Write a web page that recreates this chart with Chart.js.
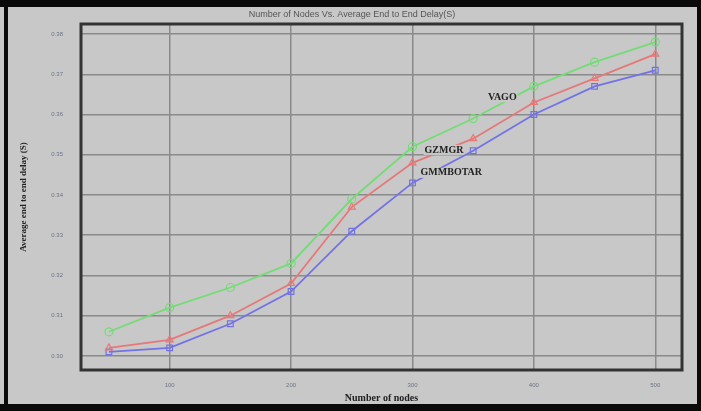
<!DOCTYPE html>
<html>
<head>
<meta charset="utf-8">
<script src="https://cdn.jsdelivr.net/npm/chart.js@4.4.1/dist/chart.umd.min.js"></script>
<style>
  html, body { margin: 0; padding: 0; background: #c8c8c8; }
  #wrap { position: relative; width: 701px; height: 411px; }
</style>
</head>
<body>
<div id="wrap"><canvas id="delay-chart"></canvas></div>
<script>
const nodes = [50, 100, 150, 200, 250, 300, 350, 400, 450, 500];
const vago = [0.306, 0.312, 0.317, 0.323, 0.339, 0.352, 0.359, 0.367, 0.373, 0.378];
const gzmgr = [0.302, 0.304, 0.310, 0.318, 0.337, 0.348, 0.354, 0.363, 0.369, 0.375];
const gmmbotar = [0.301, 0.302, 0.308, 0.316, 0.331, 0.343, 0.351, 0.360, 0.367, 0.371];

const xTicks = [100, 200, 300, 400, 500];
const yTicks = [0.30, 0.31, 0.32, 0.33, 0.34, 0.35, 0.36, 0.37, 0.38];

// series names written on the plot, anchored in data units
const seriesNames = [
  { text: 'VAGO', x: 374, y: 0.3643 },
  { text: 'GZMGR', x: 326, y: 0.3512 },
  { text: 'GMMBOTAR', x: 332, y: 0.3455 },
];

const colors = {
  vago: '#74dc74',
  gzmgr: '#e67878',
  gmmbotar: '#7272e6',
};

function toPoints(values) {
  return nodes.map((n, i) => ({ x: n, y: values[i] }));
}

function makeSet(label, values, color, style) {
  return {
    label,
    data: toPoints(values),
    borderColor: color,
    backgroundColor: 'rgba(0,0,0,0)',
    borderWidth: 1.8,
    tension: 0,
    pointStyle: style,
    pointRadius: 4,
    pointBorderWidth: 1.2,
    pointBorderColor: color,
    pointBackgroundColor: 'rgba(0,0,0,0)',
  };
}

const framePlugin = {
  id: 'frame',
  beforeDraw(chart) {
    const { ctx, width, height } = chart;
    ctx.save();
    ctx.fillStyle = '#c8c8c8';
    ctx.fillRect(0, 0, width, height);
    ctx.fillStyle = '#0a0a0a';
    ctx.fillRect(0, 0, width, 7);
    ctx.fillRect(4, 0, 4, height);
    ctx.fillRect(width - 4, 0, 4, height);
    ctx.fillRect(0, height - 7, width, 7);
    ctx.fillStyle = '#555';
    ctx.font = '9px "Liberation Sans", Arial, sans-serif';
    ctx.textAlign = 'center';
    ctx.textBaseline = 'middle';
    ctx.fillText('Number of Nodes Vs. Average End to End Delay(S)', 352, 15);
    ctx.restore();
  },
  afterDraw(chart) {
    const { ctx, chartArea: a, scales } = chart;
    ctx.save();
    ctx.strokeStyle = '#333';
    ctx.lineWidth = 3;
    ctx.strokeRect(a.left, a.top, a.right - a.left, a.bottom - a.top);

    ctx.font = 'bold 10px "Liberation Serif", "Times New Roman", serif';
    ctx.textAlign = 'center';
    ctx.textBaseline = 'middle';
    seriesNames.forEach((n) => {
      const px = scales.x.getPixelForValue(n.x);
      const py = scales.y.getPixelForValue(n.y);
      const w = ctx.measureText(n.text).width;
      ctx.fillStyle = '#c8c8c8';
      ctx.fillRect(px - w / 2 - 1, py - 5, w + 2, 10);
      ctx.fillStyle = '#222';
      ctx.fillText(n.text, px, py);
    });
    ctx.restore();
  },
};

new Chart(document.querySelector('#delay-chart'), {
  type: 'line',
  data: {
    datasets: [
      makeSet('VAGO', vago, colors.vago, 'circle'),
      makeSet('GZMGR', gzmgr, colors.gzmgr, 'triangle'),
      makeSet('GMMBOTAR', gmmbotar, colors.gmmbotar, 'rect'),
    ],
  },
  options: {
    responsive: true,
    maintainAspectRatio: false,
    animation: false,
    devicePixelRatio: 1,
    layout: { padding: { top: 24, right: 19, left: 0, bottom: 0 } },
    plugins: {
      legend: { display: false },
      tooltip: { enabled: false },
    },
    scales: {
      x: {
        type: 'linear',
        min: 27,
        max: 522,
        afterBuildTicks(scale) { scale.ticks = xTicks.map((v) => ({ value: v })); },
        afterFit(scale) { scale.height = 41; },
        grid: { color: '#8a8a8a', lineWidth: 1.5, drawTicks: false },
        border: { display: false },
        ticks: {
          color: '#6c7384',
          font: { size: 6, family: '"Liberation Sans", Arial, sans-serif' },
          padding: 12,
          maxRotation: 0,
        },
        title: {
          display: true,
          text: 'Number of nodes',
          color: '#222',
          font: { size: 10, weight: 'bold', family: '"Liberation Serif", "Times New Roman", serif' },
          padding: { top: 0, bottom: 7 },
        },
      },
      y: {
        min: 0.2965,
        max: 0.3825,
        afterBuildTicks(scale) { scale.ticks = yTicks.map((v) => ({ value: v })); },
        afterFit(scale) { scale.width = 81; },
        grid: { color: '#8a8a8a', lineWidth: 1.5, drawTicks: false },
        border: { display: false },
        ticks: {
          color: '#6c7384',
          font: { size: 6, family: '"Liberation Sans", Arial, sans-serif' },
          padding: 18,
          callback: (v) => Number(v).toFixed(2),
        },
        title: {
          display: true,
          text: 'Average end to end delay (S)',
          color: '#222',
          font: { size: 9, weight: 'bold', family: '"Liberation Serif", "Times New Roman", serif' },
          padding: { top: 18, bottom: 0 },
        },
      },
    },
  },
  plugins: [framePlugin],
});
</script>
</body>
</html>
